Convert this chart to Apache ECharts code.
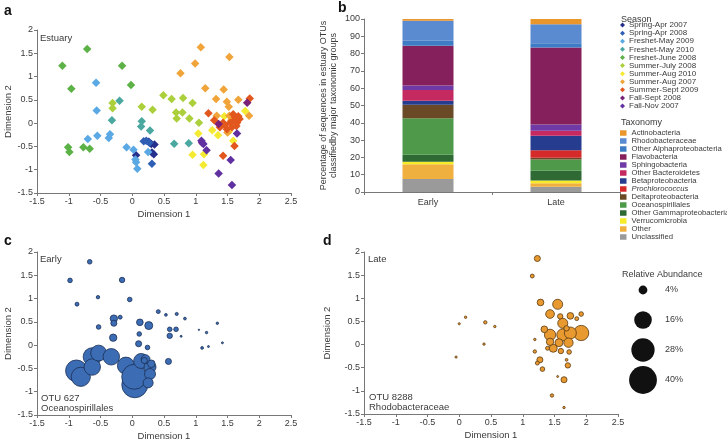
<!DOCTYPE html>
<html><head><meta charset="utf-8">
<script src="https://cdn.jsdelivr.net/npm/echarts@6/dist/echarts.min.js"></script>
<style>html,body{margin:0;padding:0;background:#fff}#c{width:727px;height:443px}</style>
</head><body><div id="c"></div>
<script>
// ---------- Panel a: seasons ----------
const seasonNames = ['Spring-Apr 2007','Spring-Apr 2008','Freshet-May 2009','Freshet-May 2010','Freshet-June 2008','Summer-July 2008','Summer-Aug 2010','Summer-Aug 2007','Summer-Sept 2009','Fall-Sept 2008','Fall-Nov 2007'];
const seasonColors = ['#262f8c','#2f5fb4','#5aa8e4','#4aa8a0','#5cb246','#acd03c','#f5ea32','#f0a43a','#e2571e','#7a2078','#6030a0'];
const springApr2007 = [[0.06,-0.69],[0.26,-0.40],[0.30,-0.45],[0.35,-0.46],[0.31,-0.63],[0.34,-0.67]];
const springApr2008 = [[0.18,-0.39],[0.22,-0.38],[0.31,-0.87],[0.27,-0.42]];
const freshetMay2009 = [[-0.57,0.87],[-0.56,0.27],[-0.55,-0.27],[-0.70,-0.34],[-0.35,-0.24],[-0.37,-0.32],[-0.09,-0.52],[0.02,-0.57],[0.06,-0.84],[0.08,-0.98],[0.25,-0.62],[0.05,-0.78]];
const freshetMay2010 = [[-0.20,0.48],[-0.32,0.06],[0.15,0.04],[0.14,-0.07],[0.28,-0.16],[0.66,-0.44],[0.89,-0.43]];
const freshetJune2008 = [[-1.10,1.23],[-0.71,1.59],[-0.96,0.74],[-0.16,1.23],[-0.02,0.82],[-1.01,-0.52],[-0.99,-0.62],[-0.77,-0.52],[-0.67,-0.55]];
const summerJuly2008 = [[-0.31,0.43],[-0.31,0.32],[0.15,0.35],[0.32,0.29],[0.49,0.60],[0.62,0.52],[0.80,0.54],[0.95,0.43],[0.69,0.23],[0.79,0.23],[0.70,0.10],[0.90,0.10],[1.05,0.01]];
const summerAug2010 = [[1.04,-0.22],[0.95,-0.68],[1.12,-0.90],[1.13,-0.67],[1.26,-0.15],[1.35,-0.26],[1.59,-0.38],[1.78,0.26],[1.45,0.15],[1.52,-0.18]];
const summerAug2007 = [[1.08,1.63],[0.99,1.28],[1.53,1.42],[0.76,1.07],[1.15,0.75],[1.44,0.72],[1.32,0.52],[1.49,0.46],[1.52,0.35],[1.67,0.50],[1.84,0.16],[1.33,0.16],[1.53,0.16],[1.50,-0.20],[1.56,0.06]];
const summerSept2009 = [[1.20,0.21],[1.85,0.53],[1.29,0.06],[1.38,-0.09],[1.46,-0.04],[1.54,0.01],[1.62,0.12],[1.65,0.01],[1.57,-0.09],[1.49,-0.13],[1.69,0.09],[1.61,-0.49],[1.43,-0.70],[1.59,0.19],[1.43,0.01],[1.64,-0.06],[1.60,0.05],[1.67,0.15]];
const fallSept2008 = [[1.81,0.44],[1.36,-0.02],[1.10,-0.42]];
const fallNov2007 = [[1.09,-0.38],[1.12,-0.45],[1.17,-0.58],[1.36,-1.08],[1.57,-1.33],[1.55,-0.79],[1.65,-0.22]];
const seasonData = [springApr2007,springApr2008,freshetMay2009,freshetMay2010,freshetJune2008,summerJuly2008,summerAug2010,summerAug2007,summerSept2009,fallSept2008,fallNov2007];

// ---------- Panel b: taxonomy stacked bars ----------
const barCategories = ['Early','Late'];
const taxaNames = ['Actinobacteria','Rhodobacteraceae','Other Alphaproteobacteria','Flavobacteria','Sphingobacteria','Other Bacteroidetes','Betaproteobacteria','Prochlorococcus','Deltaproteobacteria','Oceanospirillales','Other Gammaproteobacteria','Verrucomicrobia','Other','Unclassified'];
const taxaColors = ['#e9962d','#5a8bd0','#3f7cc6','#86205c','#6f3aa5','#c42a60','#263d8f','#d42a2a','#6a4a26','#4e9a4a','#2f6a35','#f6ec2a','#f0b040','#9a9a9a'];
const earlyPct = [1.0,11.5,2.9,23.1,2.5,6.3,2.3,0,7.7,21.2,4.0,1.5,8.5,7.5];
const latePct  = [3.0,11.0,2.5,44.5,3.6,2.9,8.3,4.4,1.0,6.5,5.6,1.7,2.0,3.0];

// ---------- Panels c,d: bubbles [dim1, dim2, relative abundance %] ----------
const otu627Early = [[-0.88,-0.55,24],[-0.81,-0.68,19],[-0.63,-0.25,17],[-0.63,-0.47,14],[-0.53,-0.17,13],[-0.33,-0.25,14],[-0.10,-0.44,15],[0.04,-0.85,35],[0.03,-0.68,32],[0.14,-0.34,11.6],[0.28,-0.47,7.4],[0.28,-0.62,6.2],[0.25,-0.81,5.2],[0.21,-0.30,4],[0.30,-0.40,3],
 [-0.98,1.39,1.1],[-0.67,1.79,1.1],[-0.16,1.40,1.5],[-0.87,0.88,0.8],[-0.54,1.03,0.6],[-0.04,0.98,1.1],[-0.53,0.39,1.1],[-0.29,0.57,2.8],[-0.29,0.47,1.9],[-0.19,0.60,0.8],[-0.30,0.16,2.8],[0.12,0.49,2.3],[0.26,0.42,3.3],[0.11,0.24,1.1],[0.10,0.03,1.9],[0.24,-0.05,1.1],[0.41,0.72,0.8],[0.53,0.65,0.4],[0.70,0.67,0.5],[0.83,0.57,0.4],[0.59,0.34,1.1],[0.69,0.34,1.1],[0.59,0.20,1.5],[0.77,0.19,0.2],[1.05,0.33,0.1],[1.17,0.27,0.3],[1.34,0.47,0.3],[1.42,0.05,0.2],[1.10,-0.06,0.4],[1.20,-0.03,0.2],[0.57,-0.35,1.9],[0.19,-0.33,1.9]];
const otu8288Late = [[1.92,0.25,12],[1.63,0.21,7.4],[1.75,0.25,7.4],[1.43,0.21,6.6],[1.55,0.87,5.2],[1.63,0.46,5.2],[1.72,0.04,4.5],[1.43,0.66,3.9],[1.57,0.04,3.3],[1.48,-0.08,3.3],[1.43,0.06,2.8],[1.28,0.91,2.3],[1.75,0.62,2.3],[1.34,0.33,2.3],[1.23,1.86,1.9],[1.27,-0.33,1.9],[1.65,-0.76,1.9],[1.59,0.61,1.5],[1.60,-0.14,1.5],[1.69,0.35,1.5],[1.71,-0.45,1.5],[1.92,0.66,1.1],[1.73,-0.16,1.1],[1.31,-0.53,1.1],[1.15,1.48,0.8],[1.85,0.56,0.8],[1.39,-0.08,0.8],[1.23,-0.40,0.8],[1.46,-1.10,0.6],[1.19,-0.15,0.6],[0.41,0.48,0.6],[1.69,-0.33,0.4],[1.65,-1.36,0.3],[1.19,0.11,0.3],[0.10,0.59,0.3],[0.56,0.39,0.3],[0.39,0.01,0.3],[0.00,0.45,0.25],[-0.05,-0.27,0.25],[1.55,-0.69,0.2]];
const sizeLegendLabels = ['4%','16%','28%','40%'];
const sizeLegendValues = [4,16,28,40];

const FONT = 'Liberation Sans, Arial, sans-serif';
const TXT = '#3a3a3a';
const bubbleSize = v => 4.4 * Math.sqrt(v[2]);

function dimX(gi, name) {
  return {gridIndex: gi, type: 'value', min: -1.5, max: 2.5, interval: 0.5,
    name: name, nameLocation: 'middle', nameGap: 16, nameTextStyle: {fontSize: 9.5, color: TXT, fontFamily: FONT},
    axisLine: {show: true, onZero: false, lineStyle: {color: '#777', width: 1}},
    axisTick: {show: true, length: 3, lineStyle: {color: '#777'}},
    axisLabel: {fontSize: 9, color: TXT, fontFamily: FONT, margin: 4},
    splitLine: {show: false}};
}
function dimY(gi, name, gap) {
  return {gridIndex: gi, type: 'value', min: -1.5, max: 2, interval: 0.5,
    name: name, nameLocation: 'middle', nameGap: gap, nameTextStyle: {fontSize: 9.5, color: TXT, fontFamily: FONT},
    axisLine: {show: true, onZero: false, lineStyle: {color: '#777', width: 1}},
    axisTick: {show: true, length: 3, lineStyle: {color: '#777'}},
    axisLabel: {fontSize: 9, color: TXT, fontFamily: FONT, margin: 4},
    splitLine: {show: false}};
}
function txt(text, left, top, extra) {
  return Object.assign({text: text, left: left, top: top, padding: 0,
    textStyle: Object.assign({fontSize: 9.5, fontWeight: 'normal', color: TXT, fontFamily: FONT, lineHeight: 10}, extra || {})});
}

const series = [];
seasonNames.forEach((n, i) => series.push({
  name: n, type: 'scatter', xAxisIndex: 0, yAxisIndex: 0, data: seasonData[i],
  symbol: 'diamond', symbolSize: 8.5, itemStyle: {color: seasonColors[i], opacity: 1}, silent: true
}));
taxaNames.slice().reverse().forEach((n) => {
  const i = taxaNames.indexOf(n);
  series.push({name: n, type: 'bar', stack: 'tax', xAxisIndex: 1, yAxisIndex: 1, barWidth: 51,
    data: [earlyPct[i], latePct[i]], itemStyle: {color: taxaColors[i]}, silent: true});
});
series.push({type: 'scatter', xAxisIndex: 2, yAxisIndex: 2, data: otu627Early, symbolSize: bubbleSize,
  itemStyle: {color: '#3c6db4', borderColor: '#1b2f55', borderWidth: 0.8, opacity: 1}, silent: true});
series.push({type: 'scatter', xAxisIndex: 3, yAxisIndex: 3, data: otu8288Late, symbolSize: bubbleSize,
  itemStyle: {color: '#e8992f', borderColor: '#5a3a12', borderWidth: 0.8, opacity: 1}, silent: true});
series.push({type: 'scatter', xAxisIndex: 4, yAxisIndex: 4,
  data: sizeLegendLabels.map((l, i) => [0.5, l, sizeLegendValues[i]]), symbolSize: bubbleSize,
  itemStyle: {color: '#111', opacity: 1}, silent: true});

const option = {
  animation: false,
  textStyle: {fontFamily: FONT},
  title: [
    txt('a', 4, 6, {fontSize: 14, fontWeight: 'bold', color: '#111'}),
    txt('b', 338, 3, {fontSize: 14, fontWeight: 'bold', color: '#111'}),
    txt('c', 4, 236, {fontSize: 14, fontWeight: 'bold', color: '#111'}),
    txt('d', 323, 236, {fontSize: 14, fontWeight: 'bold', color: '#111'}),
    txt('Estuary', 40, 33),
    txt('Early', 40, 254),
    txt('Late', 368, 254),
    txt('OTU 627\nOceanospirillales', 41, 393),
    txt('OTU 8288\nRhodobacteraceae', 369, 392),
    txt('Season', 621, 15, {fontSize: 9}),
    txt('Taxonomy', 621, 118, {fontSize: 9}),
    txt('Relative Abundance', 622, 270, {fontSize: 9})
  ],
  legend: [
    {data: seasonNames, orient: 'vertical', left: 620, top: 21, padding: 0, itemGap: 0,
     itemWidth: 5, itemHeight: 5, icon: 'diamond', selectedMode: false,
     textStyle: {fontSize: 8, lineHeight: 8.1, color: TXT, fontFamily: FONT, padding: [0,0,0,-1]}},
    {data: taxaNames, orient: 'vertical', left: 620, top: 129, padding: 0, itemGap: 0,
     itemWidth: 6.5, itemHeight: 5.5, icon: 'rect', selectedMode: false,
     formatter: n => n === 'Prochlorococcus' ? '{i|' + n + '}' : n,
     textStyle: {fontSize: 7.7, lineHeight: 7.9, color: TXT, fontFamily: FONT,
       rich: {i: {fontStyle: 'italic', fontSize: 7.7, color: TXT, fontFamily: FONT}}}}
  ],
  grid: [
    {left: 37, top: 30, width: 254, height: 163},
    {left: 364, top: 19, width: 256, height: 173},
    {left: 37, top: 252, width: 254, height: 163},
    {left: 364, top: 252, width: 254, height: 162},
    {left: 633, top: 275, width: 20, height: 120}
  ],
  xAxis: [
    dimX(0, 'Dimension 1'),
    {gridIndex: 1, type: 'category', data: barCategories,
     axisLine: {lineStyle: {color: '#777'}}, axisTick: {show: true, length: 3, lineStyle: {color: '#777'}},
     axisLabel: {fontSize: 9, color: TXT, fontFamily: FONT, margin: 6}},
    dimX(2, 'Dimension 1'),
    dimX(3, 'Dimension 1'),
    {gridIndex: 4, type: 'value', min: 0, max: 1, show: false}
  ],
  yAxis: [
    dimY(0, 'Dimension 2', 23),
    {gridIndex: 1, type: 'value', min: 0, max: 100, interval: 10,
     name: 'Percentage of sequences in estuary OTUs\nclassifiedby major taxonomic groups',
     nameLocation: 'middle', nameGap: 25, nameTextStyle: {fontSize: 9, color: TXT, fontFamily: FONT, lineHeight: 10},
     axisLine: {show: true, lineStyle: {color: '#777'}}, axisTick: {show: true, length: 3, lineStyle: {color: '#777'}},
     axisLabel: {fontSize: 9, color: TXT, fontFamily: FONT, margin: 4}, splitLine: {show: false}},
    dimY(2, 'Dimension 2', 23),
    dimY(3, 'Dimension 2', 32),
    {gridIndex: 4, type: 'category', data: sizeLegendLabels, inverse: true, position: 'right',
     axisLine: {show: false}, axisTick: {show: false},
     axisLabel: {show: true, fontSize: 9, color: TXT, fontFamily: FONT, margin: 12, align: 'left'}}
  ],
  series: series
};
const chart = echarts.init(document.getElementById('c'), null, {renderer: 'canvas'});
chart.setOption(option);
</script></body></html>
